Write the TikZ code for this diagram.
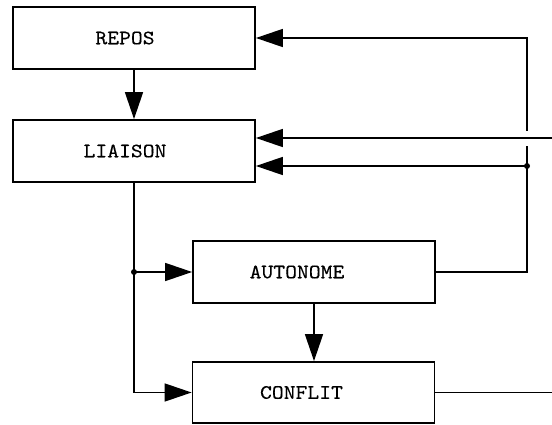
\documentclass[tikz,border=0pt]{standalone}
\usepackage{fontspec}
\setmonofont{lmmono10-regular.otf}[FakeStretch=1.1, FakeBold=0.25]
\usetikzlibrary{arrows.meta}
\begin{document}
\begin{tikzpicture}[x=1pt,y=-1pt,
  box/.style={draw, line width=1.8pt, minimum width=242pt, minimum height=62pt, inner sep=0pt},
  lbl/.style={font=\ttfamily\fontsize{20.5}{20.5}\selectfont},
  conn/.style={line width=1.6pt},
  arr/.style={conn, -{Triangle[length=27pt,width=18pt]}},
  dot/.style={circle, fill, inner sep=0pt, minimum size=6pt}]
\useasboundingbox (0,0) rectangle (552,425);
\node[box, label={[lbl, xshift=-9pt]center:REPOS}] (repos) at (134,38) {};
\node[box, label={[lbl, xshift=-9pt]center:LIAISON}] (liaison) at (134,151) {};
\node[box, label={[lbl, xshift=-17pt]center:AUTONOME}] (autonome) at (314,272) {};
\node[box, minimum height=61pt, label={[lbl, xshift=-12pt]center:CONFLIT}] (conflit) at (313.5,392.5) {};
\coordinate (tr) at (527,38);
\coordinate (j) at (527,166);
\coordinate (gapB) at (527,146);
\coordinate (gapT) at (527,131);
\coordinate (br) at (527,272);
\coordinate (in1) at (552,138);
\coordinate (out) at (552,393);
\coordinate (j2) at (liaison.south |- autonome.west);
% REPOS -> LIAISON
\draw[arr] (repos.south) -- (liaison.north);
% feedback loop from AUTONOME
\draw[conn] (autonome.east) -- (br) -- (gapB);
\draw[arr] (gapT) -- (tr) -- (repos.east);
\draw[arr] (j) -- (liaison.east |- j);
\node[dot] (jd) at (j) {};
% incoming line to LIAISON
\draw[arr] (in1) -- (liaison.east |- in1);
% LIAISON -> AUTONOME, CONFLIT
\draw[arr] (liaison.south) |- (conflit.west);
\draw[arr] (j2) -- (autonome.west);
\node[dot] (j2d) at (j2) {};
% AUTONOME -> CONFLIT
\draw[arr] (autonome.south) -- (autonome.south |- conflit.north);
% CONFLIT output
\draw[conn] (conflit.east) -- (conflit.east -| out);
\end{tikzpicture}
\end{document}
